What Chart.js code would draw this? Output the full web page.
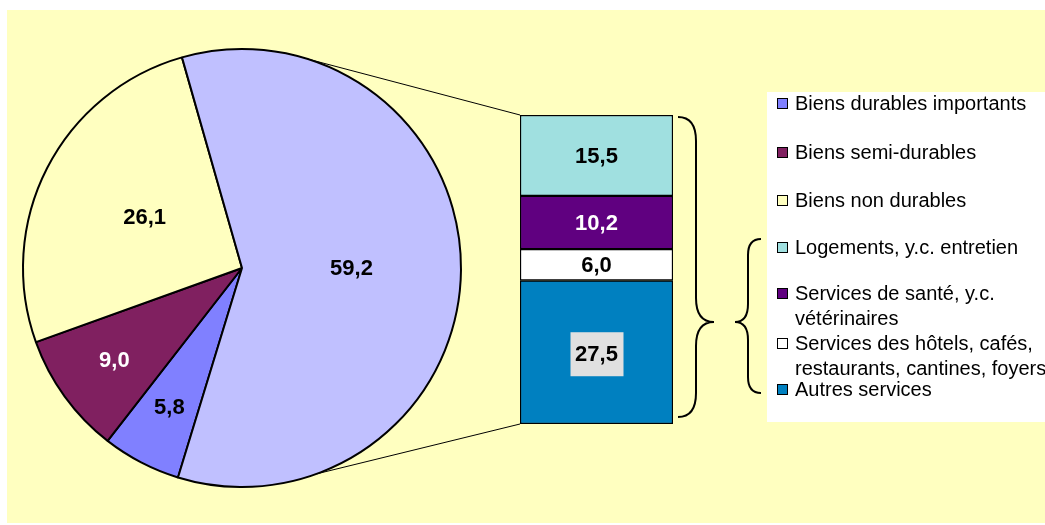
<!DOCTYPE html>
<html>
<head>
<meta charset="utf-8">
<script src="https://cdn.jsdelivr.net/npm/chart.js@4"></script>
<style>
  body { margin: 0; background: #fff; }
  #wrap { position: relative; width: 1045px; height: 525px; overflow: hidden; }
  #bg { position: absolute; left: 7px; top: 10px; width: 1038px; height: 513px; background: #ffffc0; }
  canvas { position: absolute; left: 0; top: 0; }
</style>
</head>
<body>
<div id="wrap">
  <div id="bg"></div>
  <canvas id="pieChart" width="1045" height="525"></canvas>
  <canvas id="barChart" width="1045" height="525"></canvas>
</div>
<script>
// pie: the three goods groups + services total
var pieLabels = ['Biens durables importants', 'Biens semi-durables', 'Biens non durables', 'Services']
var pieValues = [5.8, 9.0, 26.1, 59.2]
var pieColors = ['#8080ff', '#802060', '#ffffc0', '#c0c0ff']

// bar: services split, bottom segment first
var barLabels = ['Autres services', 'Services des hôtels, cafés, restaurants, cantines, foyers', 'Services de santé, y.c. vétérinaires', 'Logements, y.c. entretien']
var barValues = [27.5, 6.0, 10.2, 15.5]
var barColors = ['#0080c0', '#ffffff', '#600080', '#a0e0e0']

// legend text, wrapped like the original
var legendText = [
  ['Biens durables importants'],
  ['Biens semi-durables'],
  ['Biens non durables'],
  ['Logements, y.c. entretien'],
  ['Services de santé, y.c.', 'vétérinaires'],
  ['Services des hôtels, cafés,', 'restaurants, cantines, foyers'],
  ['Autres services']
]
var legendColors = pieColors.slice(0, 3).concat(barColors.slice().reverse())

;(function (window, document, Chart) {
  var FONT = "'Liberation Sans', Arial, sans-serif"

  function fmt (v) {
    return v.toFixed(1).replace('.', ',')
  }

  var total = 0
  for (var i = 0; i < barValues.length; i++) total += barValues[i]

  // value labels on the bar segments
  var barLabelsPlugin = {
    id: 'barLabels',
    afterDatasetsDraw: function (chart) {
      var ctx = chart.ctx
      ctx.save()
      ctx.font = 'bold 22px ' + FONT
      ctx.textAlign = 'center'
      ctx.textBaseline = 'middle'
      for (var i = 0; i < barValues.length; i++) {
        var el = chart.getDatasetMeta(i).data[0]
        var cy = (el.y + el.base) / 2
        if (i === 0) {
          // excel put a grey box behind this one
          ctx.fillStyle = '#e0e0e0'
          ctx.fillRect(el.x - 26, cy - 20, 53, 44)
          cy += 2
        }
        ctx.fillStyle = barColors[i] === '#600080' ? '#fff' : '#000'
        ctx.fillText(fmt(barValues[i]), el.x, cy + 1)
      }
      ctx.restore()
    }
  }

  // braces and legend box
  var annotatePlugin = {
    id: 'annotate',
    afterDraw: function (chart) {
      var ctx = chart.ctx
      var area = chart.chartArea
      ctx.save()
      ctx.strokeStyle = '#000'
      ctx.lineWidth = 2

      // right brace next to the bar
      var x0 = area.right + 5, xm = x0 + 18, xt = xm + 18
      var top = area.top + 2, bot = area.bottom - 7, tip = 322
      ctx.beginPath()
      ctx.moveTo(x0, top)
      ctx.quadraticCurveTo(xm, top, xm, top + 24)
      ctx.lineTo(xm, tip - 24)
      ctx.quadraticCurveTo(xm, tip, xt, tip)
      ctx.quadraticCurveTo(xm, tip, xm, tip + 24)
      ctx.lineTo(xm, bot - 24)
      ctx.quadraticCurveTo(xm, bot, x0, bot)
      ctx.stroke()

      // left brace grouping the service items of the legend
      var lx0 = 761, lxm = 748, lxt = 735
      var ltop = 239, lbot = 393
      ctx.beginPath()
      ctx.moveTo(lx0, ltop)
      ctx.quadraticCurveTo(lxm, ltop, lxm, ltop + 16)
      ctx.lineTo(lxm, tip - 18)
      ctx.quadraticCurveTo(lxm, tip, lxt, tip)
      ctx.quadraticCurveTo(lxm, tip, lxm, tip + 18)
      ctx.lineTo(lxm, lbot - 16)
      ctx.quadraticCurveTo(lxm, lbot, lx0, lbot)
      ctx.stroke()

      // legend
      ctx.fillStyle = '#fff'
      ctx.fillRect(767, 92, 290, 330)
      var itemY = [103, 152, 200, 247, 293, 343, 389]
      ctx.font = '20px ' + FONT
      ctx.textBaseline = 'middle'
      ctx.lineWidth = 1
      for (var i = 0; i < legendText.length; i++) {
        var y = itemY[i]
        ctx.fillStyle = legendColors[i]
        ctx.fillRect(777.5, y - 4.5, 10, 10)
        ctx.strokeRect(777.5, y - 4.5, 10, 10)
        ctx.fillStyle = '#000'
        for (var j = 0; j < legendText[i].length; j++) {
          ctx.fillText(legendText[i][j], 795, y + 1 + j * 25)
        }
      }
      ctx.restore()
    }
  }

  var barChart = new Chart(document.getElementById('barChart').getContext('2d'), {
    type: 'bar',
    data: {
      labels: ['Services'],
      datasets: barValues.map(function (v, i) {
        return {
          label: barLabels[i],
          data: [v],
          backgroundColor: barColors[i],
          borderColor: '#000',
          borderWidth: 1.5,
          borderSkipped: false,
          barPercentage: 1,
          categoryPercentage: 1
        }
      })
    },
    options: {
      responsive: false,
      animation: false,
      devicePixelRatio: 1,
      layout: { padding: { left: 520, right: 372, top: 115, bottom: 101 } },
      plugins: { legend: { display: false }, tooltip: { enabled: false } },
      scales: {
        x: { stacked: true, display: false },
        y: { stacked: true, display: false, min: 0, max: total }
      }
    },
    plugins: [barLabelsPlugin, annotatePlugin]
  })

  // connector lines from the services slice to the bar, under the pie
  var connectorPlugin = {
    id: 'connector',
    beforeDatasetsDraw: function (chart) {
      var arc = chart.getDatasetMeta(0).data[3]
      var topEl = barChart.getDatasetMeta(barValues.length - 1).data[0]
      var botEl = barChart.getDatasetMeta(0).data[0]
      var left = topEl.x - topEl.width / 2
      var r = arc.outerRadius
      var a1 = -73 * Math.PI / 180
      var a2 = 70 * Math.PI / 180
      var ctx = chart.ctx
      ctx.save()
      ctx.strokeStyle = '#000'
      ctx.lineWidth = 1
      ctx.beginPath()
      ctx.moveTo(arc.x + r * Math.cos(a1), arc.y + r * Math.sin(a1))
      ctx.lineTo(left, topEl.y)
      ctx.moveTo(arc.x + r * Math.cos(a2), arc.y + r * Math.sin(a2))
      ctx.lineTo(left, botEl.base)
      ctx.stroke()
      ctx.restore()
    },
    afterDatasetsDraw: function (chart) {
      var ctx = chart.ctx
      var meta = chart.getDatasetMeta(0)
      ctx.save()
      ctx.font = 'bold 22px ' + FONT
      ctx.textAlign = 'center'
      ctx.textBaseline = 'middle'
      for (var i = 0; i < meta.data.length; i++) {
        var p = meta.data[i].getProps(['x', 'y', 'startAngle', 'endAngle', 'outerRadius'])
        var mid = (p.startAngle + p.endAngle) / 2
        // small slices get their label pushed outward
        var f = pieValues[i] < 10 ? 0.72 : 0.5
        var x = p.x + Math.cos(mid) * p.outerRadius * f
        var y = p.y + Math.sin(mid) * p.outerRadius * f
        ctx.fillStyle = pieColors[i] === '#802060' ? '#fff' : '#000'
        ctx.fillText(fmt(pieValues[i]), x, y)
      }
      ctx.restore()
    }
  }

  var pieChart = new Chart(document.getElementById('pieChart').getContext('2d'), {
    type: 'pie',
    data: {
      labels: pieLabels,
      datasets: [{
        data: pieValues,
        backgroundColor: pieColors,
        borderColor: '#000',
        borderWidth: 2
      }]
    },
    options: {
      responsive: false,
      animation: false,
      devicePixelRatio: 1,
      rotation: 197,
      layout: { padding: { left: 22, right: 583, top: 48, bottom: 37 } },
      plugins: { legend: { display: false }, tooltip: { enabled: false } }
    },
    plugins: [connectorPlugin]
  })

})(window, document, Chart);
</script>
</body>
</html>
